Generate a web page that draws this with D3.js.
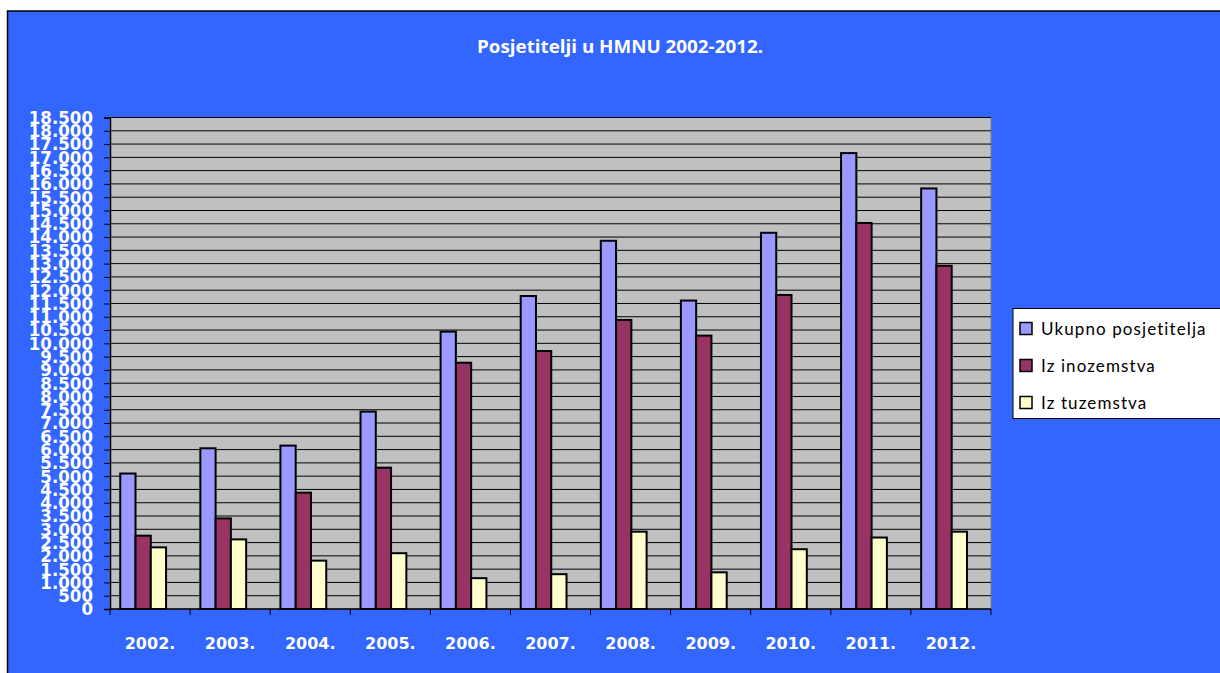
<!DOCTYPE html>
<html>
<head>
<meta charset="utf-8">
<script src="https://cdn.jsdelivr.net/npm/d3@7"></script>
<style>
  body { margin: 0; background: #fff; }
  svg { display: block; }
</style>
</head>
<body>
<div id="chart"></div>
<script>
// data
var years = ['2002.', '2003.', '2004.', '2005.', '2006.', '2007.', '2008.', '2009.', '2010.', '2011.', '2012.'];
var seriesNames = ['Ukupno posjetitelja', 'Iz inozemstva', 'Iz tuzemstva'];
var ukupno = [5100, 6050, 6150, 7430, 10440, 11780, 13860, 11610, 14160, 17160, 15830];
var inozemstvo = [2760, 3410, 4380, 5320, 9270, 9710, 10880, 10290, 11820, 14530, 12920];
var tuzemstvo = [2320, 2620, 1820, 2100, 1160, 1310, 2910, 1380, 2250, 2690, 2910];
var yTicks = d3.range(0, 18501, 500);
var seriesColors = ['#9999FF', '#993366', '#FFFFCC'];

var W = 1220, H = 673;
const margin = { left: 110, top: 117.5, right: 229, bottom: 64 };
var width = W - margin.left - margin.right,
    height = H - margin.top - margin.bottom;

var svg = d3.select('#chart').append('svg')
  .attr('width', W)
  .attr('height', H);

// chart area background
svg.append('rect')
  .attr('x', 7.5).attr('y', 11)
  .attr('width', W).attr('height', H)
  .attr('fill', '#3366FF')
  .attr('stroke', '#000')
  .attr('stroke-width', 1.5);

svg.append('text')
  .attr('x', 620).attr('y', 53)
  .attr('text-anchor', 'middle')
  .attr('fill', '#fff')
  .style('font-family', 'Open Sans')
  .style('font-weight', 'bold')
  .style('font-size', '18px')
  .attr('textLength', 286)
  .attr('lengthAdjust', 'spacingAndGlyphs')
  .text('Posjetitelji u HMNU 2002-2012.');

var g = svg.append('g')
  .attr('transform', 'translate(' + margin.left + ',' + margin.top + ')');

var rows = years.map(function(y, i) {
  return { year: y, values: [ukupno[i], inozemstvo[i], tuzemstvo[i]] };
});

var x0 = d3.scaleBand().domain(years).range([0, width]).padding(0);
var bw = x0.bandwidth();
var x1 = d3.scaleBand().domain(d3.range(seriesNames.length))
  .range([bw * 0.128, bw * 0.70]).padding(0);
var y = d3.scaleLinear().domain([0, 18500]).range([height, 0]);

// plot area
g.append('rect')
  .attr('width', width).attr('height', height)
  .attr('fill', '#C0C0C0')
  .attr('stroke', '#808080')
  .attr('stroke-width', 1);

// grid lines
g.append('g').selectAll('line')
  .data(yTicks.slice(1))
  .enter().append('line')
  .attr('x1', 0).attr('x2', width)
  .attr('y1', d => y(d)).attr('y2', d => y(d))
  .attr('stroke', '#000')
  .attr('stroke-width', 1);

// bars
var groups = g.append('g').selectAll('g')
  .data(rows)
  .enter().append('g')
  .attr('transform', d => 'translate(' + x0(d.year) + ',0)');

groups.selectAll('rect')
  .data(d => d.values.map((v, i) => ({ v: v, i: i })))
  .enter().append('rect')
  .attr('x', d => x1(d.i))
  .attr('y', d => y(d.v))
  .attr('width', x1.bandwidth())
  .attr('height', d => height - y(d.v))
  .attr('fill', d => seriesColors[d.i])
  .attr('stroke', '#000')
  .attr('stroke-width', 2);

// y axis
var yAxisG = g.append('g')
  .call(d3.axisLeft(y)
    .tickValues(yTicks)
    .tickSize(6)
    .tickPadding(11)
    .tickFormat(d => d3.format(',')(d).replace(/,/g, '.')));
yAxisG.select('.domain').attr('stroke', '#000').attr('stroke-width', 1.5);
yAxisG.selectAll('.tick line').attr('stroke', '#000');
yAxisG.selectAll('.tick text')
  .attr('fill', '#fff')
  .style('font-family', 'DejaVu Sans Condensed')
  .style('font-weight', 'bold')
  .style('font-size', '18.5px');

// x axis
var xAxisG = g.append('g')
  .attr('transform', 'translate(0,' + height + ')');
xAxisG.append('line')
  .attr('x1', 0).attr('x2', width)
  .attr('stroke', '#000').attr('stroke-width', 1.5);
xAxisG.selectAll('line.tk')
  .data(years.concat(['end']))
  .enter().append('line')
  .attr('class', 'tk')
  .attr('x1', (d, i) => i * bw).attr('x2', (d, i) => i * bw)
  .attr('y1', 0).attr('y2', 6)
  .attr('stroke', '#000');
xAxisG.selectAll('text')
  .data(years)
  .enter().append('text')
  .attr('x', d => x0(d) + bw / 2)
  .attr('y', 40)
  .attr('text-anchor', 'middle')
  .attr('fill', '#fff')
  .style('font-family', 'DejaVu Sans')
  .style('font-weight', 'bold')
  .style('font-size', '16px')
  .text(d => d);

// legend
var legend = svg.append('g').attr('transform', 'translate(1013,308.5)');
legend.append('rect')
  .attr('width', 230).attr('height', 110)
  .attr('fill', '#fff')
  .attr('stroke', '#000')
  .attr('stroke-width', 1);
var li = legend.selectAll('g.item')
  .data(seriesNames)
  .enter().append('g')
  .attr('class', 'item')
  .attr('transform', (d, i) => 'translate(7,' + (20 + i * 37) + ')');
li.append('rect')
  .attr('x', 0).attr('y', -6)
  .attr('width', 12).attr('height', 12)
  .attr('fill', (d, i) => seriesColors[i])
  .attr('stroke', '#000')
  .attr('stroke-width', 1.5);
li.append('text')
  .attr('x', 21).attr('y', 6)
  .attr('fill', '#000')
  .style('font-family', 'Lato')
  .style('font-size', '17px')
  .style('letter-spacing', '1.1px')
  .text(d => d);
</script>
</body>
</html>
